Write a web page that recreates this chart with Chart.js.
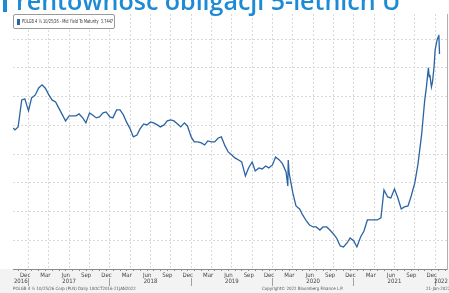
<!DOCTYPE html>
<html lang="pl">
<head>
  <meta charset="UTF-8">
  <title>Rentowność obligacji 5-letnich</title>
  <style>
    body {
      margin: 0;
      background: #fff;
      font-family: "Open Sans", sans-serif;
    }
    .wrap {
      position: relative;
      width: 449px;
      height: 293px;
      overflow: hidden;
    }
    .title {
      position: absolute;
      left: 3px;
      top: -12px;
      padding-left: 9px;
      border-left: 4px solid #1c8ad4;
      color: #1c8ad4;
      font-size: 25px;
      font-weight: 600;
      line-height: 24px;
      white-space: nowrap;
    }
    .chart-box {
      position: absolute;
      left: 0;
      top: 0;
      width: 449px;
      height: 293px;
    }
    .legend {
      position: absolute;
      left: 13px;
      top: 14px;
      width: 100px;
      height: 13px;
      border: 1px solid #9a9a9a;
      border-radius: 2px;
      background: #fff;
      font-family: "Liberation Sans Narrow", "DejaVu Sans Condensed", sans-serif;
      font-size: 5.5px;
      line-height: 13px;
      color: #333;
      white-space: nowrap;
      overflow: hidden;
    }
    .legend i {
      position: absolute;
      left: 3px;
      top: 4px;
      width: 3px;
      height: 6px;
      background: #2b64a2;
    }
    .legend span {
      position: absolute;
      left: 8px;
      top: 0;
      transform-origin: 0 50%;
    }
    .footer {
      position: absolute;
      top: 286px;
      font-family: "Liberation Sans Narrow", "DejaVu Sans Condensed", sans-serif;
      font-size: 4.4px;
      color: #555;
      white-space: nowrap;
    }
  </style>
  <script src="https://cdn.jsdelivr.net/npm/chart.js"></script>
</head>
<body>
<div class="wrap">
  <div class="chart-box"><canvas id="yieldChart"></canvas></div>
  <div class="title">rentowność obligacji 5-letnich U</div>
  <div class="legend"><i></i><span id="legendText"></span></div>
  <div class="footer" style="left:13px">POLGB 4 ¼ 10/25/26 Corp (PLN) Daily 10OCT2016-21JAN2022</div>
  <div class="footer" style="left:262px">Copyright© 2022 Bloomberg Finance L.P.</div>
  <div class="footer" style="left:426px">21-Jan-2022 16:35:47</div>
</div>

<script>
  // dane (rentowność, %)
  const daty = [
    '2016-10-24', '2016-11-01', '2016-11-15', '2016-12-01', '2016-12-15',
    '2017-01-01', '2017-01-15', '2017-02-01', '2017-02-15', '2017-03-01', '2017-03-15',
    '2017-04-01', '2017-04-15', '2017-05-01', '2017-05-15', '2017-06-01', '2017-06-15',
    '2017-07-01', '2017-07-15', '2017-08-01', '2017-08-15', '2017-09-01', '2017-09-15',
    '2017-10-01', '2017-10-15', '2017-11-01', '2017-11-15', '2017-12-01', '2017-12-15',
    '2018-01-01', '2018-01-15', '2018-02-01', '2018-02-15', '2018-03-01', '2018-03-15',
    '2018-04-01', '2018-04-15', '2018-05-01', '2018-05-15', '2018-06-01', '2018-06-15',
    '2018-07-01', '2018-07-15', '2018-08-01', '2018-08-15', '2018-09-01', '2018-09-15',
    '2018-10-01', '2018-10-15', '2018-11-01', '2018-11-15', '2018-12-01', '2018-12-15',
    '2019-01-01', '2019-01-15', '2019-02-01', '2019-02-15', '2019-03-01', '2019-03-15',
    '2019-04-01', '2019-04-15', '2019-05-01', '2019-05-15', '2019-06-01', '2019-06-15',
    '2019-07-01', '2019-07-15', '2019-08-01', '2019-08-15', '2019-09-01', '2019-09-15',
    '2019-10-01', '2019-10-15', '2019-11-01', '2019-11-15', '2019-12-01', '2019-12-15',
    '2020-01-01', '2020-01-15', '2020-02-01', '2020-02-15', '2020-03-01', '2020-03-09',
    '2020-03-11', '2020-03-15', '2020-04-01', '2020-04-15', '2020-05-01', '2020-05-15',
    '2020-06-01', '2020-06-15', '2020-07-01', '2020-07-15', '2020-08-01', '2020-08-15',
    '2020-09-01', '2020-09-15', '2020-10-01', '2020-10-15', '2020-11-01', '2020-11-15',
    '2020-12-01', '2020-12-15', '2021-01-01', '2021-01-15', '2021-02-01', '2021-02-15',
    '2021-03-01', '2021-03-15', '2021-04-01', '2021-04-15', '2021-05-01', '2021-05-15',
    '2021-06-01', '2021-06-15', '2021-07-01', '2021-07-15', '2021-08-01', '2021-08-15',
    '2021-09-01', '2021-09-15', '2021-10-01', '2021-10-15', '2021-11-01', '2021-11-15',
    '2021-11-22', '2021-12-01', '2021-12-05', '2021-12-08', '2021-12-15', '2021-12-20',
    '2021-12-27', '2022-01-01', '2022-01-10', '2022-01-15', '2022-01-18', '2022-01-21'
  ];
  const rentownosc = [
    2.456, 2.422, 2.474, 2.944, 2.962,
    2.753, 2.979, 3.031, 3.153, 3.206, 3.153,
    3.031, 2.944, 2.909, 2.805, 2.683, 2.578,
    2.666, 2.666, 2.666, 2.700, 2.631, 2.544,
    2.718, 2.683, 2.631, 2.648, 2.718, 2.735,
    2.648, 2.631, 2.770, 2.770, 2.683, 2.561,
    2.439, 2.300, 2.334, 2.439, 2.526, 2.509,
    2.561, 2.544, 2.509, 2.474, 2.509, 2.578,
    2.596, 2.578, 2.526, 2.474, 2.544, 2.491,
    2.300, 2.213, 2.213, 2.195, 2.160, 2.230,
    2.213, 2.213, 2.282, 2.300, 2.143, 2.038,
    1.986, 1.934, 1.899, 1.864, 1.620, 1.760,
    1.864, 1.707, 1.760, 1.742, 1.794, 1.760,
    1.812, 1.951, 1.899, 1.829, 1.690, 1.446,
    1.899, 1.672, 1.324, 1.098, 1.045, 0.941,
    0.836, 0.767, 0.732, 0.732, 0.679, 0.732,
    0.732, 0.679, 0.610, 0.540, 0.401, 0.383,
    0.453, 0.540, 0.488, 0.383, 0.557, 0.662,
    0.854, 0.854, 0.854, 0.854, 0.889, 1.376,
    1.254, 1.237, 1.394, 1.254, 1.045, 1.080,
    1.098, 1.272, 1.498, 1.812, 2.334, 2.944,
    3.153, 3.502, 3.345, 3.380, 3.171, 3.258,
    3.519, 3.815, 3.990, 4.042, 4.077, 3.7447
  ];
  const nazwaSerii = 'POLGB 4 ¼ 10/25/26 - Mid Yield To Maturity';
  const nazwyMiesiecy = ['Jan', 'Feb', 'Mar', 'Apr', 'May', 'Jun', 'Jul', 'Aug', 'Sep', 'Oct', 'Nov', 'Dec'];
  const lata = [2016, 2017, 2018, 2019, 2020, 2021, 2022];
  const zakresOsi = ['2016-10-23', '2022-02-22'];
  const liniePoziome = [0, 0.5, 1, 1.5, 2, 2.5, 3, 3.5, 4];

  // data -> ułamek roku (miesiąc = 1/12)
  function naRok(s) {
    const [r, m, d] = s.split('-').map(Number);
    const dni = new Date(r, m, 0).getDate();
    return r + (m - 1 + (d - 1) / dni) / 12;
  }

  const xMin = naRok(zakresOsi[0]);
  const xMax = naRok(zakresOsi[1]);

  // środki miesięcy (znaczniki osi)
  const miesiace = [];
  for (let r = 2016; r <= 2022; r++) {
    for (let m = 1; m <= 12; m++) {
      const v = r + (m - 0.5) / 12;
      if (v > xMin && v < xMax) miesiace.push({ value: v, m: m });
    }
  }
  // początki kwartałów (pionowa siatka)
  const kwartaly = [];
  for (let r = 2016; r <= 2022; r++) {
    for (let q = 0; q < 4; q++) {
      const v = r + q / 4;
      if (v > xMin && v < xMax) kwartaly.push({ value: v });
    }
  }
  // rok: granice + etykiety pośrodku widocznego zakresu
  const lataTicks = [];
  lata.forEach(r => {
    if (r > xMin) lataTicks.push({ value: r, granica: true });
    const a = Math.max(r, xMin), b = Math.min(r + 1, xMax);
    lataTicks.push({ value: (a + b) / 2, rok: r });
  });

  const punkty = daty.map((d, i) => ({ x: naRok(d), y: rentownosc[i] }));

  // legenda w ramce, tekst dopasowany do szerokości ramki
  const legendText = document.getElementById('legendText');
  legendText.textContent = nazwaSerii + '  ' + rentownosc[rentownosc.length - 1].toFixed(4);
  legendText.style.whiteSpace = 'pre';
  const skala = 91 / legendText.offsetWidth;
  legendText.style.transform = 'scaleX(' + skala.toFixed(3) + ')';

  const fontOsi = { family: "'Liberation Sans Narrow', 'DejaVu Sans Condensed', sans-serif", size: 6 };

  // szare tło pod osią X
  const tloOsi = {
    id: 'tloOsi',
    beforeDraw(chart) {
      const { ctx, chartArea } = chart;
      ctx.save();
      ctx.fillStyle = '#f3f3f3';
      ctx.fillRect(0, chartArea.bottom, chart.width, chart.height - chartArea.bottom);
      ctx.restore();
    }
  };

  new Chart(document.getElementById('yieldChart'), {
    type: 'line',
    data: {
      datasets: [{
        label: nazwaSerii,
        data: punkty,
        borderColor: '#2b64a2',
        borderWidth: 1.3,
        pointRadius: 0,
        tension: 0,
        fill: false
      }]
    },
    options: {
      responsive: true,
      maintainAspectRatio: false,
      animation: false,
      layout: { padding: { left: 13, top: 14, right: 0, bottom: 6 } },
      plugins: {
        legend: { display: false },
        tooltip: { enabled: false }
      },
      scales: {
        x: {
          type: 'linear',
          position: 'bottom',
          weight: 0,
          min: xMin,
          max: xMax,
          bounds: 'data',
          afterBuildTicks: s => { s.ticks = miesiace.map(t => ({ value: t.value })); },
          afterFit: s => { s.height = 9; },
          ticks: {
            autoSkip: false,
            maxRotation: 0,
            minRotation: 0,
            padding: 1,
            color: '#444',
            font: fontOsi,
            callback: (v, i) => {
              const m = miesiace[i].m;
              return [12, 3, 6, 9].includes(m) ? nazwyMiesiecy[m - 1] : '';
            }
          },
          grid: { drawOnChartArea: false, tickLength: 2, color: '#8a8a8a' },
          border: { color: '#8a8a8a' }
        },
        lata: {
          type: 'linear',
          position: 'bottom',
          weight: 1,
          min: xMin,
          max: xMax,
          bounds: 'data',
          afterBuildTicks: s => { s.ticks = lataTicks.map(t => ({ value: t.value })); },
          afterFit: s => { s.height = 9; },
          ticks: {
            autoSkip: false,
            maxRotation: 0,
            minRotation: 0,
            padding: -8,
            color: '#444',
            font: fontOsi,
            callback: (v, i) => lataTicks[i].rok ? String(lataTicks[i].rok) : ''
          },
          grid: {
            drawOnChartArea: false,
            tickLength: 8,
            color: c => (lataTicks[c.index] && lataTicks[c.index].granica) ? '#a0a0a0' : 'rgba(0,0,0,0)'
          },
          border: { display: false }
        },
        kwartal: {
          type: 'linear',
          position: 'top',
          min: xMin,
          max: xMax,
          bounds: 'data',
          afterBuildTicks: s => { s.ticks = kwartaly.map(t => ({ value: t.value })); },
          afterFit: s => { s.height = 0; },
          ticks: { display: false },
          grid: { drawTicks: false, color: '#d9d9d9', lineWidth: 1 },
          border: { display: false, dash: [2, 2] }
        },
        y: {
          position: 'right',
          min: 0,
          max: 4.44,
          afterBuildTicks: s => { s.ticks = liniePoziome.map(v => ({ value: v })); },
          afterFit: s => { s.width = 2; },
          ticks: { display: false },
          grid: { drawTicks: false, color: '#d9d9d9', lineWidth: 1 },
          border: { color: '#b0b0b0', dash: [2, 2] }
        }
      }
    },
    plugins: [tloOsi]
  });
</script>
</body>
</html>
